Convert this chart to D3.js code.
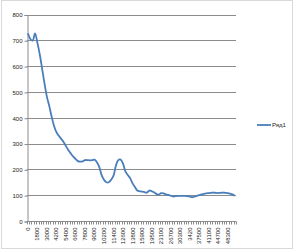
<!DOCTYPE html>
<html><head><meta charset="utf-8">
<script src="https://cdn.jsdelivr.net/npm/d3@7"></script>
<style>html,body{margin:0;padding:0;background:#fff;}svg{display:block;}</style>
</head><body>
<script>
const categories = ["0","450","900","1350","1800","2100","2400","2700","3000","3300","3600","3900","4200","4500","4800","5100","5400","5700","6000","6300","6600","6900","7200","7500","7800","8100","8400","8700","9000","9300","9600","9900","10200","10500","10800","11100","11400","11700","12000","12300","12600","12900","13200","13500","13800","14400","15000","15500","15900","16800","17700","18600","19500","20400","21300","22200","23100","24000","24900","25800","26700","27600","28500","29400","30300","31300","32300","33300","3420","35000","35900","36700","37500","38400","39300","40200","41100","42000","42900","43800","44700","45600","46500","47400","48300","49200","50100","51000"];
const series1 = [727,705,699,727,690,645,589,532,481,445,404,368,344,330,318,306,290,275,262,250,241,232,230,231,236,236,235,236,238,228,210,178,160,150,150,160,176,214,236,238,222,192,178,166,146,132,118,115,114,112,110,118,116,111,105,102,108,107,103,101,98,95,96,97,97,97,97,96,95,92,94,97,100,103,105,107,108,109,110,109,108,109,110,109,108,106,103,98];
const yTicks = [0,100,200,300,400,500,600,700,800];
const seriesName = "Ряд1";
const labelEvery = 4;

(function () {
const W = 295, H = 252;
const svg = d3.select("body").append("svg").attr("width", W).attr("height", H);
svg.append("rect").attr("x",1.5).attr("y",0.5).attr("width",291).attr("height",248)
  .attr("fill","#fff").attr("stroke","#d9d9d9");

const pl = 26.7, pr = 236, pt = 14.5, pb = 221;
const x = d3.scaleBand().domain(d3.range(categories.length)).range([pl, pr]).padding(0);
const y = d3.scaleLinear().domain([0, 800]).range([pb, pt]);
const font = "'Liberation Sans', Arial, sans-serif";

// gridlines
svg.append("g").selectAll("line").data(yTicks.filter(d => d > 0)).join("line")
  .attr("x1", pl).attr("x2", pr)
  .attr("y1", d => Math.round(y(d)) + 0.5).attr("y2", d => Math.round(y(d)) + 0.5)
  .attr("stroke", "#8c8c8c").attr("stroke-width", 1);

// y axis
const yAxis = d3.axisLeft(y).tickValues(yTicks).tickSize(3).tickPadding(2);
const gy = svg.append("g").attr("transform", `translate(${Math.round(pl)+0.5},0.5)`).call(yAxis);
gy.select(".domain").attr("stroke", "#8c8c8c");
gy.selectAll(".tick line").attr("stroke", "#8c8c8c");
gy.selectAll(".tick text").attr("font-family", font).attr("font-size", 6).attr("fill", "#222");

// x axis
const gx = svg.append("g").attr("transform", `translate(0,${Math.round(pb)+0.5})`);
gx.append("line").attr("x1", pl).attr("x2", pr).attr("stroke", "#8c8c8c");
gx.selectAll("line.tk").data(d3.range(categories.length + 1)).join("line").attr("class","tk")
  .attr("x1", i => Math.round(pl + i * x.bandwidth()) + 0.5)
  .attr("x2", i => Math.round(pl + i * x.bandwidth()) + 0.5)
  .attr("y1", 0).attr("y2", 3).attr("stroke", "#8c8c8c");
gx.selectAll("text").data(d3.range(0, categories.length, labelEvery)).join("text")
  .attr("transform", i => `translate(${x(i) + x.bandwidth()/2 + 2},6) rotate(-90)`)
  .attr("text-anchor", "end")
  .attr("font-family", font).attr("font-size", 6).attr("fill", "#222")
  .text(i => categories[i]);

// line
const line = d3.line()
  .x((d, i) => x(i) + x.bandwidth() / 2)
  .y(d => y(d))
  .curve(d3.curveCatmullRom.alpha(0.5));
svg.append("path").datum(series1).attr("d", line)
  .attr("fill", "none").attr("stroke", "#4a7ebb").attr("stroke-width", 1.8);

// legend
const lg = svg.append("g").attr("transform", "translate(257,125)");
lg.append("line").attr("x1", 0).attr("x2", 14).attr("stroke", "#4a7ebb").attr("stroke-width", 1.8);
lg.append("text").attr("x", 15).attr("y", 2).attr("font-family", font).attr("font-size", 6)
  .attr("fill", "#222").text(seriesName);
})();
</script>
</body></html>
